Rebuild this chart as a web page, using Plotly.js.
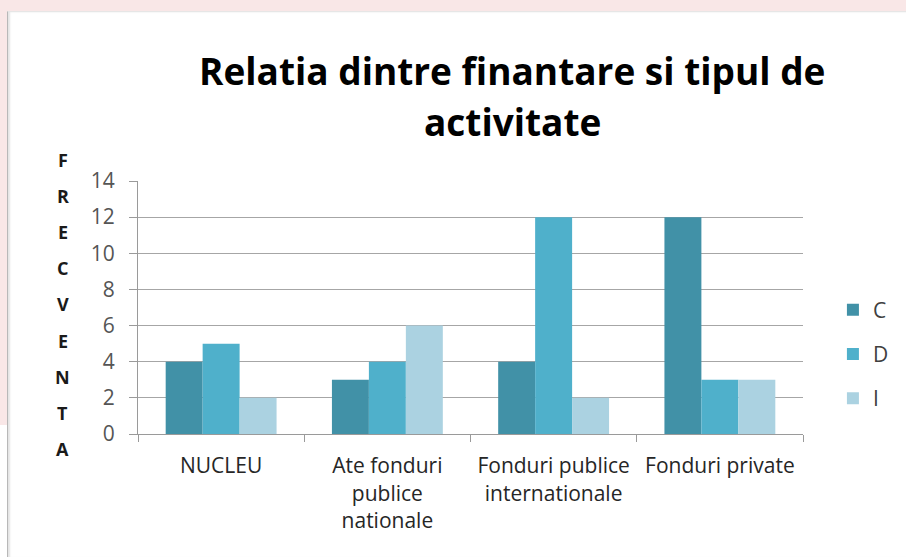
<!DOCTYPE html>
<html>
<head>
<meta charset="utf-8">
<script src="https://cdn.plot.ly/plotly-3.0.1.min.js"></script>
<style>
  html, body { margin: 0; padding: 0; width: 906px; height: 557px; overflow: hidden; background: #F9E7E7; }
  #panel { position: absolute; left: 7px; top: 11px; width: 899px; height: 546px; background: #ffffff;
           border-left: 1px solid #b8b8b8; border-top: 1px solid #e6e6e6; box-shadow: inset 2px 0 2px #e4e4e4; }
  #corner { position: absolute; left: 0; top: 425px; width: 7px; height: 132px; background: #ffffff; }
  #chart { position: absolute; left: 0; top: 0; width: 906px; height: 557px; }
</style>
</head>
<body>
<div id="panel"></div>
<div id="corner"></div>
<div id="chart"></div>
<script>
const categories = ["NUCLEU", "Ate fonduri<br>publice<br>nationale", "Fonduri publice<br>internationale", "Fonduri private"];
const seriesNames = ["C", "D", "I"];
const valuesC = [4, 3, 4, 12];
const valuesD = [5, 4, 12, 3];
const valuesI = [2, 6, 2, 3];
const colors = ["#4191A7", "#4FB0CB", "#ABD2E1"];
const yTickVals = [0, 2, 4, 6, 8, 10, 12, 14];
const titleLines = ["Relatia dintre finantare si tipul de", "activitate"];
const yTitleLetters = ["F", "R", "E", "C", "V", "E", "N", "T", "A"];

const font = "'Open Sans', Lato, sans-serif";
const allValues = [valuesC, valuesD, valuesI];
const traces = allValues.map((vals, i) => ({
  type: "bar",
  name: seriesNames[i],
  x: categories,
  y: vals,
  marker: { color: colors[i], line: { width: 0 } },
  legendgroup: "g" + i,
  hoverinfo: "x+y+name"
}));

// plot area: x 138..808, y 181..434 (pixels)
const W = 906, H = 557;
const L = 138, R = 808, T = 181, B = 434;
const px = v => (v - L) / (R - L);
const py = v => (B - v) / (B - T);

const annotations = [];
yTitleLetters.forEach((ch, i) => annotations.push({
  text: "<b>" + ch + "</b>",
  xref: "paper", yref: "paper",
  x: px(62), y: py(160 + i * 36.1),
  xanchor: "center", yanchor: "middle",
  showarrow: false,
  font: { family: font, size: 18, color: "#1a1a1a" }
}));
const titleCenters = [70, 121];
titleLines.forEach((t, i) => annotations.push({
  text: "<b>" + t + "</b>",
  xref: "paper", yref: "paper",
  x: px(515), y: py(titleCenters[i]),
  xanchor: "center", yanchor: "middle",
  showarrow: false,
  font: { family: font, size: 37, color: "#000000" }
}));

const layout = {
  width: W, height: H,
  paper_bgcolor: "rgba(0,0,0,0)",
  plot_bgcolor: "rgba(0,0,0,0)",
  margin: { l: L, r: W - R, t: T, b: H - B, pad: 0 },
  bargap: 0.333,
  bargroupgap: 0,
  barmode: "group",
  xaxis: {
    type: "category",
    showgrid: false,
    showline: true, linecolor: "#9a9a9a", linewidth: 1,
    ticks: "outside", tickson: "boundaries", ticklen: 7, tickcolor: "#9a9a9a",
    tickfont: { family: font, size: 21, color: "#262626" },
    ticklabelstandoff: 13,
    fixedrange: true
  },
  yaxis: {
    range: [0, 14],
    tickvals: yTickVals,
    showgrid: true, gridcolor: "#a6a6a6", gridwidth: 1,
    showline: true, linecolor: "#9a9a9a", linewidth: 1,
    zeroline: false,
    ticks: "outside", ticklen: 8, tickcolor: "#9a9a9a",
    tickfont: { family: font, size: 21, color: "#555555" },
    ticklabelstandoff: 10,
    fixedrange: true
  },
  legend: {
    x: 1.045, xanchor: "left",
    y: py(354), yanchor: "middle",
    font: { family: font, size: 21, color: "#404040" },
    tracegroupgap: 14,
    itemwidth: 30,
    bgcolor: "rgba(0,0,0,0)"
  },
  annotations: annotations,
  showlegend: true
};

Plotly.newPlot("chart", traces, layout, { displayModeBar: false, staticPlot: true });
</script>
</body>
</html>
